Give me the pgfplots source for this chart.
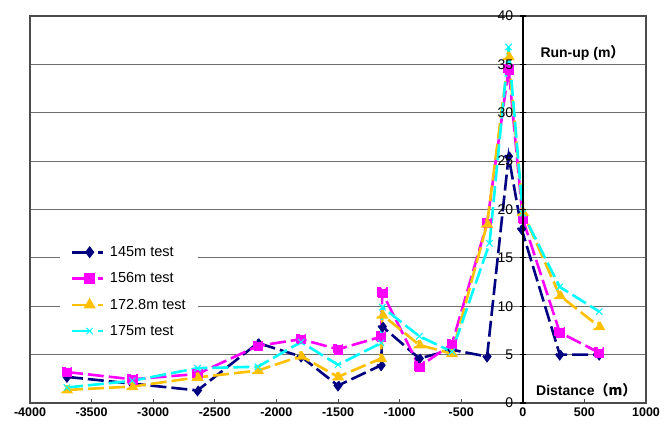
\documentclass[border=0pt]{standalone}
\usepackage{fontspec}
\setmainfont{Liberation Sans}
\newfontfamily\cjk{Noto Sans CJK SC}
\usepackage{pgfplots}
\pgfplotsset{compat=1.18}
\usepackage{pgfplotstable}

\definecolor{cnavy}{RGB}{0,0,128}
\definecolor{cmag}{RGB}{255,0,255}
\definecolor{corange}{RGB}{255,192,0}
\definecolor{ccyan}{RGB}{0,255,255}
\definecolor{gridgray}{RGB}{110,110,110}

\pgfplotstableread{
x y
-3700 2.7
-3170 2.0
-2640 1.3
-2150 6.2
-1800 4.8
-1500 1.8
-1150 3.9
-1140 7.9
-840 4.6
-575 5.5
-290 4.8
-115 25.5
-10 18.0
300 5.0
620 5.0
}\tA

\pgfplotstableread{
x y
-3700 3.2
-3170 2.45
-2640 3.0
-2150 5.9
-1800 6.6
-1500 5.55
-1150 6.85
-1140 11.4
-840 3.75
-575 6.1
-290 18.6
-115 34.5
0 19.0
300 7.3
620 5.2
}\tB

\pgfplotstableread{
x y
-3700 1.35
-3170 1.7
-2640 2.65
-2150 3.35
-1800 4.85
-1500 2.7
-1150 4.6
-1140 9.1
-840 6.0
-575 5.1
-290 18.5
-115 35.8
0 19.7
300 11.1
620 7.9
}\tC

\pgfplotstableread{
x y
-3700 1.6
-3170 2.3
-2640 3.6
-2150 3.75
-1800 6.3
-1500 3.95
-1150 6.2
-1140 9.9
-840 6.9
-575 5.3
-270 16.5
-115 36.8
0 19.6
300 12.0
620 9.45
}\tD

\begin{document}
\begin{tikzpicture}
\pgfplotsset{
  ser/.style={line width=2.6pt, dash pattern=on 16pt off 5pt, every mark/.append style={solid}},
}
\begin{axis}[
  width=616pt, height=387pt, scale only axis,
  xmin=-4000, xmax=1000, ymin=0, ymax=40,
  xtick={-4000,-3500,...,1000},
  ytick={0,5,...,40}, yticklabels={},
  ytick style={draw=none},
  ymajorgrids, grid style={gridgray, line width=0.8pt},
  axis line style={draw=black!70, line width=1.2pt},
  xtick pos=bottom, xtick align=inside,
  major tick length=4pt,
  x tick style={black!70, line width=1pt},
  /pgf/number format/assume math mode=true,
  /pgf/number format/1000 sep={},
  xticklabel style={font=\bfseries\fontsize{12.5}{14}\selectfont, yshift=-1pt},
  legend style={at={(rel axis cs:0.049,0.423)}, anchor=north west,
    draw=none, fill=white, font=\fontsize{14.5}{16}\selectfont,
    row sep=10.7pt, inner xsep=10pt, inner ysep=5pt,
    /tikz/every odd column/.append style={column sep=4pt}},
  legend cell align=left,
  legend image code/.code={
    \draw[#1,solid] (0pt,0pt) -- (19pt,0pt);
    \draw[#1,solid] plot coordinates {(18pt,0pt)};
    \draw[#1,solid] (26pt,0pt) -- (31pt,0pt);
  },
]
\coordinate (bl) at (rel axis cs:0,0);
\coordinate (tr) at (rel axis cs:1,1);
\addplot[ser, cnavy, mark=diamond*, mark size=4pt, mark options={fill=cnavy}] table {\tA};
\addplot[ser, cmag, mark=square*, mark size=4pt, mark options={fill=cmag}] table {\tB};
\addplot[ser, corange, mark=triangle*, mark size=4.5pt, mark options={fill=corange}] table {\tC};
\addplot[ser, ccyan, mark=x, mark size=4.5pt, mark options={line width=1pt}] table {\tD};
\legend{145m test, 156m test, 172.8m test, 175m test}
\node[anchor=west, font=\bfseries\fontsize{14}{16}\selectfont] at (axis cs:115,36.2) {Run-up (m\cjk{）}};
\node[anchor=west, font=\bfseries\fontsize{14}{16}\selectfont] at (axis cs:80,1.35) {Distance\cjk{（}m\cjk{）}};
\end{axis}
\begin{axis}[
  width=616pt, height=387pt, scale only axis,
  xmin=-4000, xmax=1000, ymin=0, ymax=40,
  axis x line=none, axis y line=middle,
  axis line style={-, black, line width=2.4pt},
  ytick={0,5,...,40},
  ytick align=center,
  major tick length=6pt,
  y tick style={black, line width=1.2pt},
  hide obscured y ticks=false,
  /pgf/number format/assume math mode=true,
  yticklabel style={font=\fontsize{14}{16}\selectfont, anchor=east, xshift=-3pt},
]
\end{axis}
\pgfresetboundingbox
\path[use as bounding box] ([shift={(-30pt,-22pt)}]bl) rectangle ([shift={(26pt,16pt)}]tr);
\end{tikzpicture}
\end{document}
